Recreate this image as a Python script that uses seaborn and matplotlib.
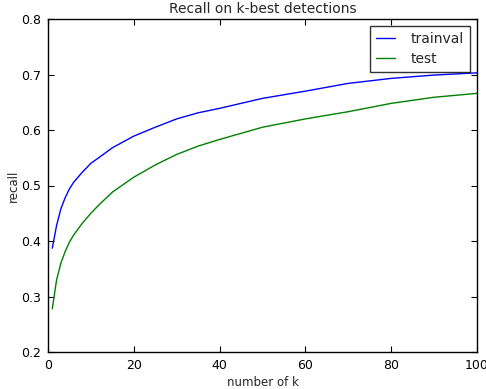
import matplotlib
matplotlib.use("Agg")
import matplotlib.pyplot as plt
import seaborn as sns
import pandas as pd

k_values = [1, 2, 3, 4, 5, 6, 8, 10, 12, 15, 20, 25, 30, 35, 40, 50, 60, 70, 80, 90, 100]
trainval_recall = [0.387, 0.428, 0.458, 0.478, 0.494, 0.506, 0.524, 0.540, 0.551, 0.568,
                   0.589, 0.605, 0.620, 0.631, 0.639, 0.657, 0.670, 0.684, 0.693, 0.699, 0.703]
test_recall = [0.278, 0.330, 0.360, 0.381, 0.398, 0.411, 0.432, 0.450, 0.466, 0.488,
               0.515, 0.537, 0.556, 0.571, 0.583, 0.605, 0.620, 0.633, 0.648, 0.659, 0.666]
series_names = ["trainval", "test"]
x_ticks = [0, 20, 40, 60, 80, 100]
y_ticks = [0.2, 0.3, 0.4, 0.5, 0.6, 0.7, 0.8]

df = pd.concat([
    pd.DataFrame({"k": k_values, "recall": trainval_recall, "set": series_names[0]}),
    pd.DataFrame({"k": k_values, "recall": test_recall, "set": series_names[1]}),
])

sns.set_theme(style="white")
plt.rcParams["font.family"] = ["DejaVu Sans"]

fig = plt.figure(figsize=(4.86, 3.89), dpi=100)
ax = fig.add_axes([48 / 486, 37 / 389, (477 - 48) / 486, (352 - 19) / 389])

sns.lineplot(data=df, x="k", y="recall", hue="set", hue_order=series_names,
             palette={"trainval": (0, 0, 1), "test": (0, 0.5, 0)},
             linewidth=1.0, ax=ax)

ax.set_xlim(0, 100)
ax.set_ylim(0.2, 0.8)
ax.set_xticks(x_ticks)
ax.set_yticks(y_ticks)
ax.set_xticklabels([str(v) for v in x_ticks])
ax.set_yticklabels([f"{v:.1f}" for v in y_ticks])
ax.tick_params(direction="in", length=4, width=0.8, labelsize=9, top=True, right=True,
               bottom=True, left=True, colors="black", pad=5)
for s in ax.spines.values():
    s.set_color("black")
    s.set_linewidth(1.0)
ax.set_xlabel("number of k", fontsize=8.5, labelpad=3)
ax.set_ylabel("recall", fontsize=8.5, labelpad=1)
ax.set_title("Recall on k-best detections", fontsize=10, pad=4)

leg = ax.legend(loc="upper right", fontsize=10, frameon=True, fancybox=False,
                borderaxespad=0.5, handlelength=1.4, handletextpad=1.1,
                borderpad=0.45, labelspacing=0.4)
leg.get_frame().set_edgecolor("black")
leg.get_frame().set_linewidth(1.0)
leg.set_title(None)

fig.savefig("out.png", dpi=100)
